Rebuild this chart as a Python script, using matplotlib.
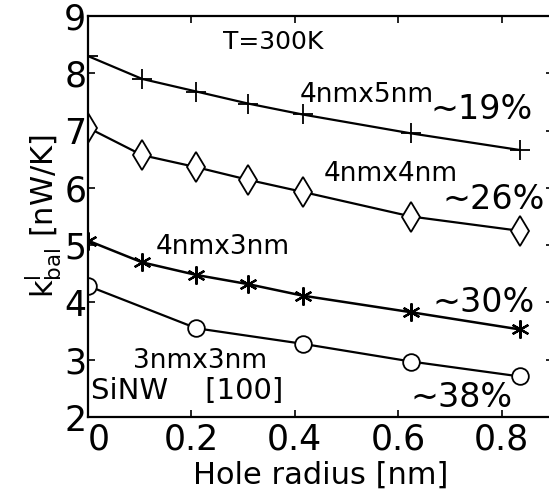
import matplotlib.pyplot as plt

# hole radius [nm] and ballistic lattice conductance [nW/K]
x_full = [0.0, 0.105, 0.21, 0.31, 0.415, 0.625, 0.835]
k_4x5 = [8.30, 7.90, 7.68, 7.47, 7.28, 6.95, 6.66]
k_4x4 = [7.05, 6.57, 6.36, 6.14, 5.93, 5.50, 5.25]
k_4x3 = [5.08, 4.70, 4.48, 4.32, 4.12, 3.83, 3.53]
x_3x3 = [0.0, 0.21, 0.415, 0.625, 0.835]
k_3x3 = [4.29, 3.55, 3.28, 2.97, 2.71]

x_ticks = [0, 0.2, 0.4, 0.6, 0.8]
x_tick_labels = ['0', '0.2', '0.4', '0.6', '0.8']
y_ticks = [2, 3, 4, 5, 6, 7, 8, 9]


def main():
    plt.rcParams['font.family'] = 'DejaVu Sans'
    plt.rcParams['mathtext.default'] = 'regular'
    fig = plt.figure(figsize=(5.49, 4.96), dpi=100)
    ax = fig.add_axes([0.160, 0.159, 0.848, 0.809])

    style = dict(color='black', lw=1.6, mfc='white', mec='black', mew=1.3)
    ax.plot(x_full, k_4x5, marker='+', ms=14, **style)
    ax.plot(x_full, k_4x4, marker='d', ms=15, **style)
    ax.plot(x_full, k_4x3, marker=(6, 2, 0), ms=13, color='black',
            lw=1.8, mec='black', mew=1.6)
    ax.plot(x_3x3, k_3x3, marker='o', ms=12, **style)

    ax.set_xlim(0, 0.9)
    ax.set_ylim(2, 9)
    ax.set_xticks(x_ticks)
    ax.set_xticklabels(x_tick_labels)
    ax.get_xticklabels()[0].set_ha('left')
    ax.set_yticks(y_ticks)
    ax.tick_params(direction='in', top=True, right=True, length=5,
                   width=1.2, labelsize=25)
    ax.tick_params(axis='y', pad=1)
    ax.tick_params(axis='x', pad=4)
    for s in ax.spines.values():
        s.set_linewidth(1.6)

    ax.set_xlabel('Hole radius [nm]', fontsize=22, labelpad=3)
    ax.set_ylabel(r'$k^{l}_{bal}$ [nW/K]', fontsize=22, labelpad=0)

    ax.text(0.358, 8.54, 'T=300K', fontsize=18, ha='center', va='center')
    ax.text(0.54, 7.62, '4nmx5nm', fontsize=19, ha='center', va='center')
    ax.text(0.762, 7.36, '∼19%', fontsize=24, ha='center', va='center')
    ax.text(0.586, 6.25, '4nmx4nm', fontsize=19, ha='center', va='center')
    ax.text(0.785, 5.79, '∼26%', fontsize=24, ha='center', va='center')
    ax.text(0.26, 4.97, '4nmx3nm', fontsize=19, ha='center', va='center')
    ax.text(0.766, 4.00, '∼30%', fontsize=24, ha='center', va='center')
    ax.text(0.216, 2.98, '3nmx3nm', fontsize=19, ha='center', va='center')
    ax.text(0.006, 2.45, 'SiNW    [100]', fontsize=21, ha='left', va='center')
    ax.text(0.722, 2.34, '∼38%', fontsize=24, ha='center', va='center')

    fig.savefig('out.png', dpi=100)


if __name__ == "__main__":
    main()
